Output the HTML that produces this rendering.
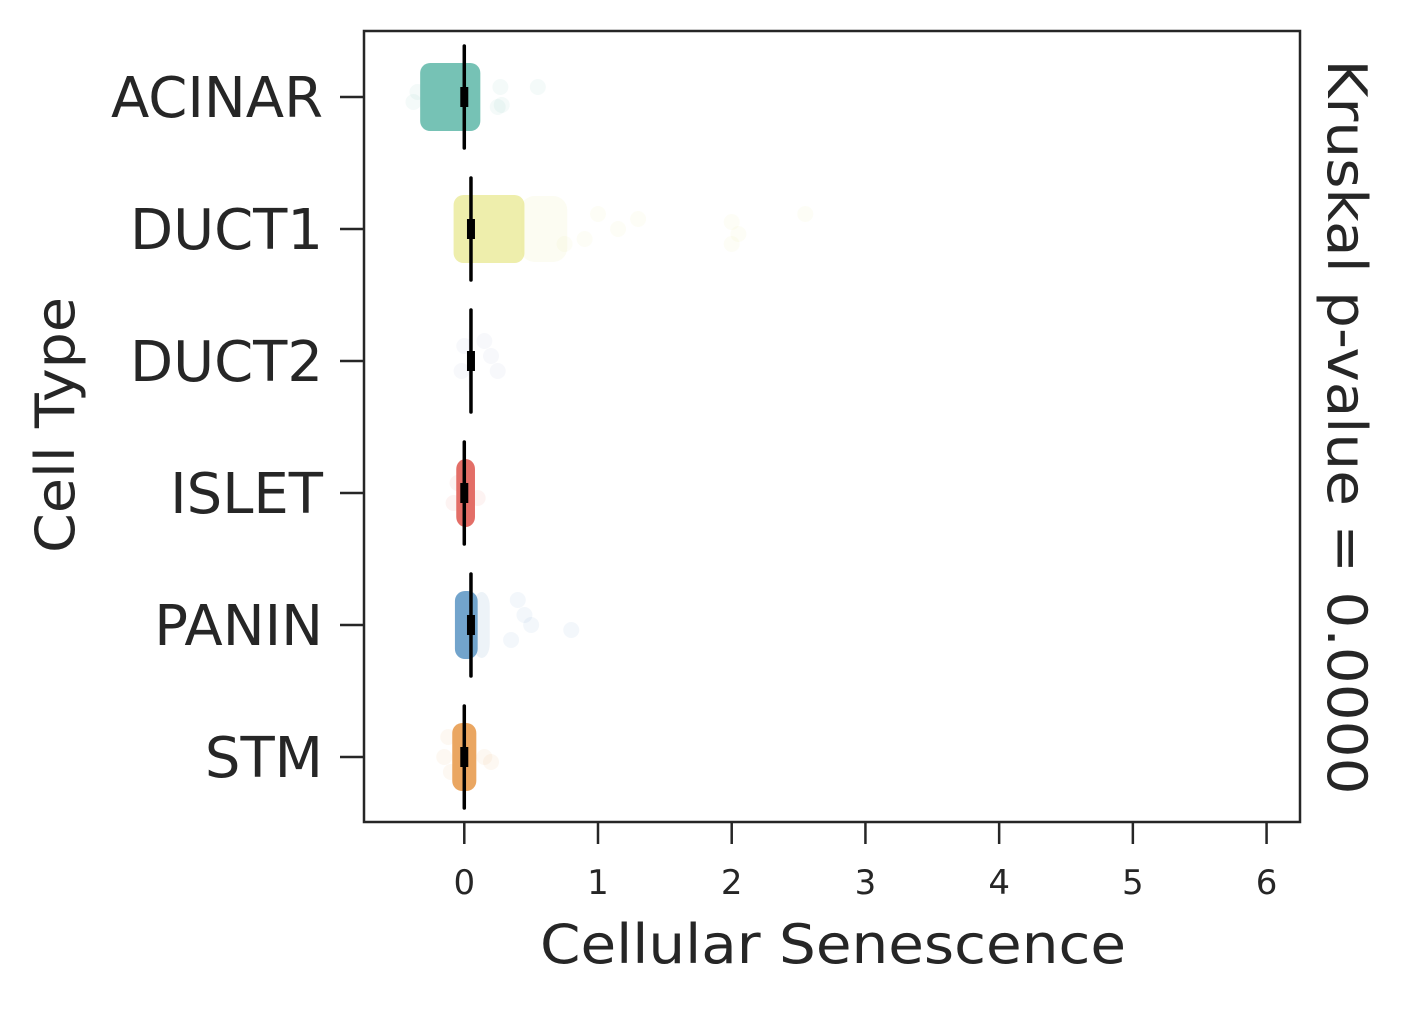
<!DOCTYPE html>
<html><head><meta charset="utf-8"><style>
body{margin:0;background:#fff}
svg text{font-family:"DejaVu Sans","Liberation Sans",sans-serif;fill:#262626}
</style></head><body>
<svg id="chart" width="1405" height="1007">
<g id="marks"></g>
<g id="axes"></g>
</svg>
<script>
const categories=["ACINAR","DUCT1","DUCT2","ISLET","PANIN","STM"];
const colors=["#6fbfb1","#e8e890","#9aa0c8","#e2665f","#6a9fc9","#e9a158"];
const coreMin=[-0.33,-0.08,0.03,-0.06,-0.07,-0.09];
const coreMax=[0.12,0.80,0.05,0.08,0.22,0.09];
const denseMax=[0.12,0.45,0.05,0.08,0.10,0.09];
const medians=[0.0,0.05,0.05,0.0,0.05,0.0];
const outliers=[
 [[0.27,-10],[0.55,-10],[0.25,10],[0.28,8],[-0.35,-5],[-0.38,5]],
 [[2.55,-15],[2.0,-7],[2.05,5],[2.0,15],[1.3,-10],[1.15,0],[1.0,-15],[0.9,10],[0.75,15]],
 [[0.15,-20],[0.2,-5],[0.25,10],[-0.02,10],[0.0,-15]],
 [[-0.08,10],[0.1,5],[-0.05,-10]],
 [[0.4,-25],[0.45,-10],[0.5,0],[0.8,5],[0.35,15]],
 [[-0.15,0],[-0.1,15],[0.15,0],[0.2,5],[-0.12,-20]]
];
const xTicks=[0,1,2,3,4,5,6];
const X0=364,X1=1300,Y0=31,Y1=822,xmin=-0.75,xmax=6.25;
const sx=v=>X0+(v-xmin)/(xmax-xmin)*(X1-X0);
const sy=i=>97+i*132;
const NS="http://www.w3.org/2000/svg";
const marks=document.getElementById('marks'),axes=document.getElementById('axes');
function mk(p,tag,a){const e=document.createElementNS(NS,tag);for(const k in a)e.setAttribute(k,a[k]);p.appendChild(e);return e;}
categories.forEach((c,i)=>{
 const y=sy(i);
 outliers[i].forEach(o=>{
  const e=mk(marks,'circle',{cx:sx(o[0]),cy:y+o[1],r:8,fill:colors[i],'fill-opacity':0.08});
  
  
 });
 if(coreMax[i]>denseMax[i]){
  const f=mk(marks,'rect',{x:sx(denseMax[i])-4,y:y-33,width:sx(coreMax[i])-sx(denseMax[i]),height:66,rx:14,fill:colors[i],'fill-opacity':0.12});
  
  
 }
 const r=mk(marks,'rect',{x:sx(coreMin[i]),y:y-34,width:Math.max(4,sx(denseMax[i])-sx(coreMin[i])),height:68,rx:10,fill:colors[i],'fill-opacity':i==2?0.1:(i==1?0.75:0.95)});
 
 
 const m=sx(medians[i]);
 const l=mk(marks,'line',{x1:m,x2:m,y1:y-51,y2:y+51,stroke:'#000','stroke-width':3.5,'stroke-linecap':'round'});
 
 
 const b=mk(marks,'rect',{x:m-4,y:y-10,width:8,height:20,fill:'#000'});
 
 
 const t=mk(axes,'line',{x1:X0-24,x2:X0,y1:y,y2:y,stroke:'#262626','stroke-width':2.5});
 
 
 const tx=mk(axes,'text',{x:X0-41,y:y+20,'font-size':56,'text-anchor':'end'});tx.textContent=c;
 
 
});
xTicks.forEach(v=>{
 const x=sx(v);
 const t=mk(axes,'line',{x1:x,x2:x,y1:Y1,y2:Y1+22,stroke:'#262626','stroke-width':2.5});
 
 
 const tx=mk(axes,'text',{x:x,y:Y1+72,'font-size':34,'text-anchor':'middle'});tx.textContent=v;
 
 
});
const fr=mk(axes,'rect',{x:X0,y:Y0,width:X1-X0,height:Y1-Y0,fill:'none',stroke:'#262626','stroke-width':2.5});


const xl=mk(axes,'text',{x:833,y:963,'font-size':54,'text-anchor':'middle',textLength:586,lengthAdjust:'spacingAndGlyphs'});xl.textContent='Cellular Senescence';


const yl=mk(axes,'text',{x:0,y:0,'font-size':54,'text-anchor':'middle',textLength:256,lengthAdjust:'spacingAndGlyphs',transform:'translate(74,425) rotate(-90)'});yl.textContent='Cell Type';


const pl=mk(axes,'text',{x:0,y:0,'font-size':54,'text-anchor':'middle',textLength:735,lengthAdjust:'spacingAndGlyphs',transform:'translate(1328,427) rotate(90)'});pl.textContent='Kruskal p-value = 0.0000';


</script>
</body></html>
